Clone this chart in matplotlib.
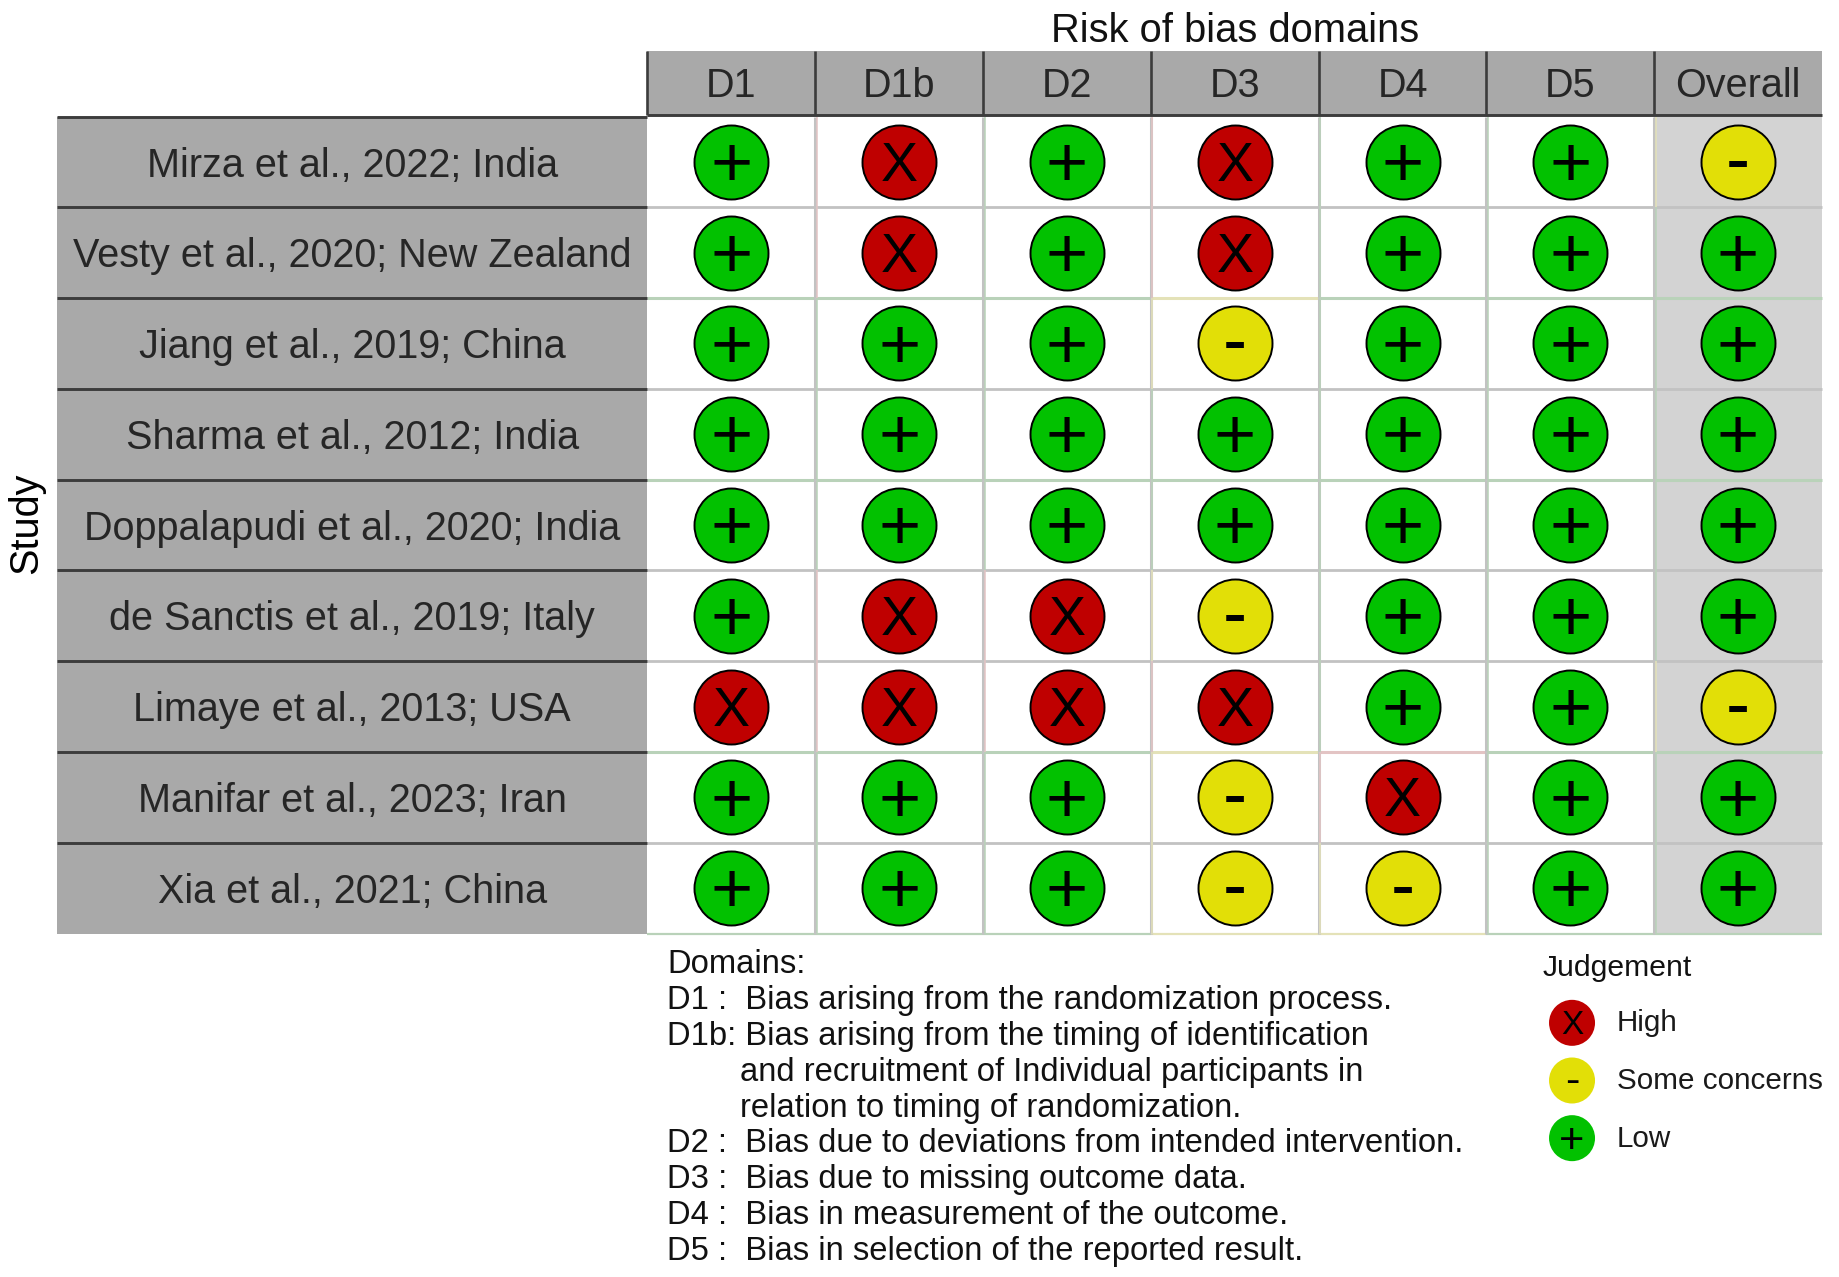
import matplotlib
matplotlib.use('Agg')
import matplotlib.pyplot as plt
from matplotlib.patches import Rectangle

plt.rcParams['font.family'] = ['Liberation Sans', 'DejaVu Sans']

W, H = 1840, 1277
DPI = 100

studies = ['Mirza et al., 2022; India', 'Vesty et al., 2020; New Zealand',
           'Jiang et al., 2019; China', 'Sharma et al., 2012; India',
           'Doppalapudi et al., 2020; India', 'de Sanctis et al., 2019; Italy',
           'Limaye et al., 2013; USA', 'Manifar et al., 2023; Iran',
           'Xia et al., 2021; China']
domains = ['D1', 'D1b', 'D2', 'D3', 'D4', 'D5', 'Overall']

# judgement per study, one list per domain
d1 = ['+', '+', '+', '+', '+', '+', 'X', '+', '+']
d1b = ['X', 'X', '+', '+', '+', 'X', 'X', '+', '+']
d2 = ['+', '+', '+', '+', '+', 'X', 'X', '+', '+']
d3 = ['X', 'X', '-', '+', '+', '-', 'X', '-', '-']
d4 = ['+', '+', '+', '+', '+', '+', '+', 'X', '-']
d5 = ['+', '+', '+', '+', '+', '+', '+', '+', '+']
overall = ['-', '+', '+', '+', '+', '+', '-', '+', '+']
judgements = [d1, d1b, d2, d3, d4, d5, overall]

legend_labels = ['High', 'Some concerns', 'Low']
legend_symbols = ['X', '-', '+']

domain_notes = ['Domains:',
                'D1 :  Bias arising from the randomization process.',
                'D1b: Bias arising from the timing of identification',
                'and recruitment of Individual participants in',
                'relation to timing of randomization.',
                'D2 :  Bias due to deviations from intended intervention.',
                'D3 :  Bias due to missing outcome data.',
                'D4 :  Bias in measurement of the outcome.',
                'D5 :  Bias in selection of the reported result.']
note_indent = [False, False, False, True, True, False, False, False, False]

colors = {'X': '#BF0000', '-': '#E2DF07', '+': '#02C100'}
tints = {'X': '#e3c4c4', '-': '#e4e2b8', '+': '#b9d2b9'}
# glyph centre above the baseline, in em
sym_raise = {'X': 0.344, '-': 0.29, '+': 0.335}
sym_size = {'X': 40, '-': 52, '+': 52}

# row boundaries below which the tint of the next row shows strongly
strong_rows = [False, True, False, True, False, False, True, False, False]

STRIP = '#A9A9A9'
DARK = '#3c3c3c'
LINE = '#c2c2c2'


def px_axes(x0, y0, x1, y1):
    # axes placed by its pixel box, y measured from the top of the image
    ax = fig.add_axes([x0 / W, 1 - y1 / H, (x1 - x0) / W, (y1 - y0) / H])
    ax.axis('off')
    return ax


def put_symbol(ax, x, y, sym, scale=1.0):
    size = sym_size[sym] * scale
    ax.annotate(sym, (x, y), xytext=(0, -sym_raise[sym] * size),
                textcoords='offset points', ha='center', va='baseline',
                fontsize=size, color='black', zorder=5)


fig = plt.figure(figsize=(W / DPI, H / DPI), dpi=DPI)

GRID_L, GRID_R, GRID_T, GRID_B = 647.5, 1822, 116.5, 933.5
n_col, n_row = len(domains), len(studies)

# main traffic light grid
ax = px_axes(GRID_L, GRID_T, GRID_R, GRID_B)
ax.set_xlim(0, n_col)
ax.set_ylim(n_row, 0)
ax.add_patch(Rectangle((n_col - 1, 0), 1, n_row, color='#D3D3D3', zorder=0, lw=0))

for c, col in enumerate(judgements):
    for r, sym in enumerate(col):
        # horizontal boundary under this cell, tinted by the cell below
        below = col[r + 1] if r + 1 < n_row else sym
        if r + 1 == n_row:
            hcolor, hwidth = tints[sym], 1.6
        elif strong_rows[r]:
            hcolor, hwidth = tints[below], 2.2
        else:
            hcolor, hwidth = LINE, 2.0
        ax.plot([c, c + 1], [r + 1, r + 1], color=hcolor, lw=hwidth, zorder=1,
                solid_capstyle='butt', clip_on=False)
        # vertical boundary left of this cell, grey with a tint on its right side
        if c > 0:
            ax.plot([c, c], [r, r + 1], color=LINE, lw=2.2, zorder=1,
                    solid_capstyle='butt', clip_on=False)
            ax.plot([c + 0.009, c + 0.009], [r, r + 1], color=tints[sym], lw=1.1, zorder=1,
                    solid_capstyle='butt', clip_on=False)
        ax.scatter(c + 0.5, r + 0.5, s=(74 * 72 / DPI) ** 2, color=colors[sym],
                   edgecolors='black', linewidths=1.4, zorder=3)
        put_symbol(ax, c + 0.5, r + 0.5, sym)

# study strip on the left
ax_rows = px_axes(57.5, GRID_T, 647, GRID_B)
ax_rows.set_xlim(0, 1)
ax_rows.set_ylim(n_row, 0)
ax_rows.add_patch(Rectangle((0, 0), 1, n_row, color=STRIP, lw=0, zorder=0))
for r, name in enumerate(studies):
    ax_rows.plot([0, 1], [r, r], color=DARK, lw=2.1, zorder=1, solid_capstyle='butt',
                 clip_on=False)
    ax_rows.text(0.5, r + 0.54, name, ha='center', va='center', fontsize=28.5,
                 color='#262626')

# domain header on top
ax_head = px_axes(GRID_L, 51, GRID_R, GRID_T - 2)
ax_head.set_xlim(0, n_col)
ax_head.set_ylim(1, 0)
ax_head.add_patch(Rectangle((0, 0), n_col, 1, color=STRIP, lw=0, zorder=0))
ax_head.plot([0, n_col], [1, 1], color=DARK, lw=2.1, solid_capstyle='butt', clip_on=False)
for c, name in enumerate(domains):
    ax_head.plot([c, c], [0, 1], color=DARK, lw=1.9, solid_capstyle='butt', clip_on=False)
    ax_head.text(c + 0.5, 0.555, name, ha='center', va='center', fontsize=28.5,
                 color='#262626')

fig.text((GRID_L + GRID_R) / 2 / W, 1 - 30.5 / H, 'Risk of bias domains', ha='center',
         va='center', fontsize=28.7, color='#111111')
fig.text(26 / W, 1 - 523.5 / H, 'Study', rotation=90, ha='center', va='center',
         fontsize=28.5, color='black')

# domain notes under the grid
for i, line in enumerate(domain_notes):
    x = 739.5 if note_indent[i] else 667
    fig.text(x / W, 1 - (964.5 + i * 35.9) / H, line, ha='left', va='center',
             fontsize=23.6, color='#111111')

# judgement legend
fig.text(1543 / W, 1 - 967.5 / H, 'Judgement', ha='left', va='center', fontsize=21.7,
         color='#111111')
ax_leg = px_axes(1544, 994, 1830, 1167)
ax_leg.set_xlim(0, 1)
ax_leg.set_ylim(len(legend_labels), 0)
for i, (sym, label) in enumerate(zip(legend_symbols, legend_labels)):
    ax_leg.scatter(0.098, i + 0.5, s=(46 * 72 / DPI) ** 2, color=colors[sym],
                   edgecolors='none', clip_on=False, zorder=3)
    put_symbol(ax_leg, 0.098, i + 0.5, sym, scale=0.6)
    ax_leg.text(0.255, i + 0.51, label, ha='left', va='center', fontsize=21.3, color='#1a1a1a',
                clip_on=False)

fig.savefig('out.png', dpi=DPI, facecolor='white')
